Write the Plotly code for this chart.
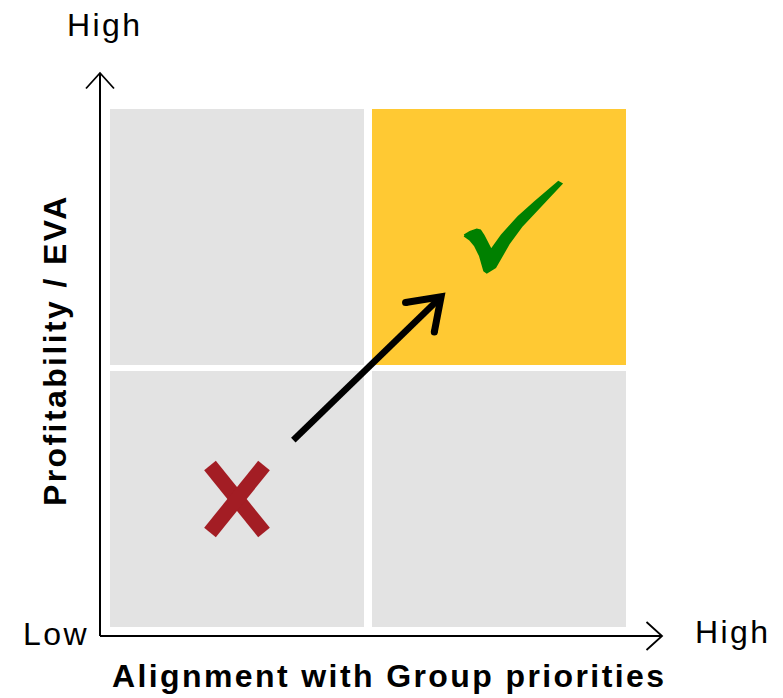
import numpy as np
import plotly.graph_objects as go

# ---------------- data ----------------
alignment_levels = ["Low", "High"]          # x axis (columns)
profitability_levels = ["Low", "High"]      # y axis (rows)
# rows: low / high profitability ; cols: low / high alignment ; 1 = target quadrant
quadrant_highlight = [[0, 0],
                      [0, 1]]
x_axis_title = "Alignment with Group priorities"
y_axis_title = "Profitability / EVA"
# verdict marks (in quadrant units, 0..2 on each axis)
verdict_x = [0.5, 1.55]
verdict_y = [0.5, 1.54]
verdict_ok = [False, True]
# movement arrow from the current position to the target quadrant
move_start = [0.715, 0.725]
move_end = [1.279, 1.272]

# ---------------- styles ----------------
GRAY = "#E3E3E3"
GOLD = "#FFC933"
GREEN = "#008000"
RED = "#A31D24"
FONT = "Arial, Liberation Sans, sans-serif"
LS = "letter-spacing:2.4px"
FS = 32

W, H = 783, 698
PX = 262.0                      # pixels per quadrant unit
X0 = -106 / PX
X1 = X0 + W / PX
Y1 = 630 / PX
Y0 = Y1 - H / PX


def xd(p):
    return X0 + p / PX


def yd(p):
    return Y1 - p / PX


fig = go.Figure()

# quadrants
fig.add_trace(go.Heatmap(
    x=[0.5, 1.5], y=[0.5, 1.5], z=quadrant_highlight,
    zmin=0, zmax=1, colorscale=[[0, GRAY], [1, GOLD]],
    xgap=8, ygap=6, showscale=False, hoverinfo="skip"))

# axes with open arrow heads
orig = -6 / PX
tipy = yd(73)
tipx = xd(662)
fig.add_trace(go.Scatter(
    x=[orig, orig, None, orig, tipx], y=[tipy, orig, None, orig, orig],
    mode="lines", line=dict(color="black", width=2), hoverinfo="skip"))
a, b = 14 / PX, 15.5 / PX
fig.add_trace(go.Scatter(
    x=[orig - a, orig, orig + a, None, tipx - b, tipx, tipx - b],
    y=[tipy - b, tipy, tipy - b, None, orig + a, orig, orig - a],
    mode="lines", line=dict(color="black", width=1.8), hoverinfo="skip"))

# movement arrow
s = np.array(move_start)
e = np.array(move_end)
u = (e - s) / np.linalg.norm(e - s)
L = 36 / PX
ang = np.deg2rad(35)


def rot(v, t):
    return np.array([v[0] * np.cos(t) - v[1] * np.sin(t), v[0] * np.sin(t) + v[1] * np.cos(t)])


arm1 = e - L * rot(u, ang)
arm2 = e - L * rot(u, -ang)
shaft_end = e - u * (3 / PX)
fig.add_trace(go.Scatter(
    x=[s[0], shaft_end[0]], y=[s[1], shaft_end[1]],
    mode="lines", line=dict(color="black", width=6.5), hoverinfo="skip"))
fig.add_trace(go.Scatter(
    x=[arm1[0], e[0], arm2[0]], y=[arm1[1], e[1], arm2[1]],
    mode="lines", line=dict(color="black", width=7), hoverinfo="skip"))
fig.add_trace(go.Scatter(
    x=[arm1[0], arm2[0]], y=[arm1[1], arm2[1]],
    mode="markers", marker=dict(color="black", size=7), hoverinfo="skip"))

# verdict glyphs
check_outline = [(464.3, 235), (470, 231.7), (476.7, 229.3), (480, 230), (483.3, 235),
                 (488.3, 245), (491, 250), (501.7, 235), (518.3, 216.7), (535, 201.7),
                 (548.3, 190), (558.3, 181.7), (561, 183.3), (551.7, 193.3), (538.3, 206.7),
                 (521.7, 225), (508.3, 243.3), (498.3, 261.7), (495, 266.7), (486.7, 271.7),
                 (484.3, 270), (480, 255), (475, 245), (470, 239), (464.3, 235)]
for cx, cy, ok in zip(verdict_x, verdict_y, verdict_ok):
    if ok:
        fig.add_trace(go.Scatter(
            x=[cx + (p[0] - 512) / PX for p in check_outline],
            y=[cy - (p[1] - 226) / PX for p in check_outline],
            mode="lines", fill="toself", fillcolor=GREEN,
            line=dict(color=GREEN, width=2.5), hoverinfo="skip"))
    else:
        hx, hy = 27 / PX, 33.5 / PX
        fig.add_trace(go.Scatter(
            x=[cx - hx, cx + hx, None, cx + hx, cx - hx],
            y=[cy + hy, cy - hy, None, cy + hy, cy - hy],
            mode="lines", line=dict(color=RED, width=15), hoverinfo="skip"))

# text labels
def label(text, x, y, bold=False, angle=0):
    fig.add_annotation(
        x=x, y=y, xref="x", yref="y", showarrow=False, textangle=angle,
        text=f"<span style='{LS}'>{text}</span>",
        xanchor="center", yanchor="middle",
        font=dict(family=FONT, size=FS, color="black", weight="bold" if bold else "normal"))


label(profitability_levels[1], xd(104), yd(25))
label(alignment_levels[0], xd(56), yd(634))
label(alignment_levels[1], xd(732), yd(632))
label(x_axis_title, xd(389), yd(676), bold=True)
label(y_axis_title, xd(55), yd(350), bold=True, angle=-90)

fig.update_layout(
    width=W, height=H, margin=dict(l=0, r=0, t=0, b=0),
    showlegend=False, plot_bgcolor="white", paper_bgcolor="white",
    xaxis=dict(visible=False, range=[X0, X1], fixedrange=True),
    yaxis=dict(visible=False, range=[Y0, Y1], fixedrange=True),
)

fig.write_html("out.html", config={"displayModeBar": False})
